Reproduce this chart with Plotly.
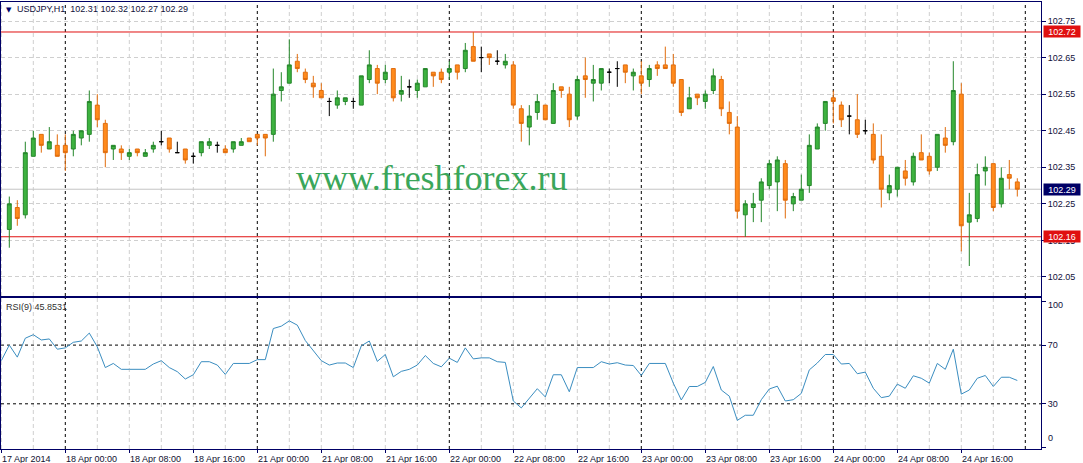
import plotly.graph_objects as go

# ---------------- data ----------------
symbol_title = "USDJPY,H1  102.31 102.32 102.27 102.29"
rsi_title = "RSI(9) 45.8531"
watermark = "www.freshforex.ru"

# hourly bars, 17 Apr 2014 17:00 ... 24 Apr 2014 23:00 (bar index 0..126)
opens = [102.18, 102.24, 102.22, 102.38, 102.44, 102.40, 102.41, 102.41, 102.40, 102.43,
         102.44, 102.52, 102.47, 102.40, 102.40, 102.38, 102.40, 102.38, 102.40, 102.42,
         102.43, 102.39, 102.40, 102.38, 102.39, 102.41, 102.41, 102.40, 102.40, 102.41,
         102.43, 102.44, 102.44, 102.44, 102.56, 102.58, 102.64, 102.61, 102.58, 102.56,
         102.53, 102.52, 102.53, 102.53, 102.52, 102.59, 102.62, 102.59, 102.62, 102.55,
         102.57, 102.56, 102.57, 102.61, 102.61, 102.61, 102.63, 102.62, 102.68, 102.65,
         102.66, 102.64, 102.63, 102.63, 102.51, 102.46, 102.50, 102.52, 102.47, 102.57,
         102.55, 102.49, 102.60, 102.58, 102.58, 102.61, 102.62, 102.63, 102.60, 102.60,
         102.59, 102.63, 102.63, 102.63, 102.59, 102.51, 102.55, 102.53, 102.56, 102.59,
         102.50, 102.46, 102.22, 102.24, 102.26, 102.30, 102.31, 102.36, 102.25, 102.26,
         102.30, 102.40, 102.47, 102.54, 102.52, 102.49, 102.48, 102.45, 102.44, 102.38,
         102.28, 102.29, 102.34, 102.31, 102.39, 102.38, 102.35, 102.43, 102.42, 102.55,
         102.20, 102.21, 102.34, 102.36, 102.25, 102.33, 102.31]
highs = [102.27, 102.26, 102.42, 102.45, 102.44, 102.46, 102.44, 102.44, 102.45, 102.45,
         102.56, 102.55, 102.48, 102.41, 102.41, 102.40, 102.40, 102.40, 102.42, 102.45,
         102.43, 102.42, 102.40, 102.39, 102.42, 102.43, 102.42, 102.41, 102.42, 102.43,
         102.43, 102.44, 102.44, 102.62, 102.61, 102.70, 102.66, 102.62, 102.60, 102.58,
         102.54, 102.56, 102.54, 102.54, 102.60, 102.67, 102.63, 102.63, 102.62, 102.60,
         102.59, 102.59, 102.62, 102.61, 102.62, 102.64, 102.63, 102.69, 102.72, 102.68,
         102.66, 102.67, 102.66, 102.64, 102.52, 102.52, 102.55, 102.52, 102.58, 102.57,
         102.57, 102.60, 102.65, 102.63, 102.62, 102.62, 102.64, 102.63, 102.62, 102.64,
         102.63, 102.64, 102.68, 102.66, 102.59, 102.57, 102.55, 102.56, 102.62, 102.60,
         102.53, 102.49, 102.26, 102.28, 102.32, 102.37, 102.38, 102.37, 102.28, 102.33,
         102.44, 102.47, 102.53, 102.56, 102.53, 102.52, 102.55, 102.48, 102.47, 102.44,
         102.33, 102.35, 102.37, 102.39, 102.44, 102.39, 102.44, 102.46, 102.64, 102.58,
         102.28, 102.36, 102.38, 102.36, 102.35, 102.37, 102.32]
lows = [102.13, 102.19, 102.21, 102.38, 102.39, 102.40, 102.38, 102.34, 102.38, 102.41,
        102.42, 102.46, 102.35, 102.37, 102.37, 102.37, 102.38, 102.38, 102.39, 102.41,
        102.39, 102.39, 102.36, 102.36, 102.38, 102.40, 102.39, 102.39, 102.39, 102.41,
        102.42, 102.41, 102.38, 102.42, 102.53, 102.58, 102.61, 102.58, 102.54, 102.54,
        102.49, 102.51, 102.52, 102.51, 102.52, 102.58, 102.55, 102.58, 102.53, 102.53,
        102.54, 102.54, 102.57, 102.57, 102.58, 102.59, 102.59, 102.61, 102.64, 102.61,
        102.63, 102.63, 102.62, 102.51, 102.42, 102.41, 102.48, 102.48, 102.47, 102.54,
        102.46, 102.48, 102.54, 102.53, 102.56, 102.58, 102.57, 102.58, 102.56, 102.55,
        102.57, 102.60, 102.62, 102.57, 102.49, 102.51, 102.52, 102.51, 102.55, 102.49,
        102.44, 102.21, 102.16, 102.20, 102.20, 102.29, 102.23, 102.21, 102.23, 102.26,
        102.28, 102.40, 102.45, 102.47, 102.46, 102.44, 102.43, 102.44, 102.36, 102.24,
        102.26, 102.27, 102.30, 102.30, 102.37, 102.33, 102.34, 102.39, 102.41, 102.12,
        102.08, 102.20, 102.30, 102.23, 102.24, 102.29, 102.27]
closes = [102.25, 102.21, 102.39, 102.43, 102.41, 102.42, 102.38, 102.39, 102.44, 102.45,
          102.53, 102.48, 102.39, 102.41, 102.39, 102.39, 102.39, 102.39, 102.41, 102.42,
          102.40, 102.39, 102.37, 102.38, 102.42, 102.42, 102.41, 102.39, 102.42, 102.42,
          102.42, 102.43, 102.43, 102.55, 102.57, 102.63, 102.62, 102.59, 102.57, 102.54,
          102.53, 102.54, 102.54, 102.53, 102.60, 102.63, 102.58, 102.61, 102.54, 102.56,
          102.57, 102.58, 102.62, 102.60, 102.59, 102.62, 102.61, 102.67, 102.64, 102.65,
          102.65, 102.64, 102.64, 102.52, 102.47, 102.49, 102.53, 102.48, 102.56, 102.56,
          102.48, 102.59, 102.59, 102.59, 102.62, 102.61, 102.62, 102.61, 102.61, 102.58,
          102.62, 102.62, 102.62, 102.58, 102.50, 102.54, 102.54, 102.55, 102.60, 102.51,
          102.47, 102.23, 102.25, 102.25, 102.31, 102.36, 102.37, 102.26, 102.27, 102.29,
          102.41, 102.46, 102.53, 102.53, 102.48, 102.49, 102.44, 102.45, 102.37, 102.29,
          102.30, 102.35, 102.32, 102.38, 102.37, 102.34, 102.44, 102.41, 102.56, 102.19,
          102.22, 102.33, 102.35, 102.24, 102.32, 102.32, 102.29]

# RSI(9), bar index -1 (17 Apr 16:00) ... 126
rsi_values = [59.4, 70.0, 61.8, 74.7, 77.1, 73.5, 74.2, 67.2, 68.1, 71.9,
              72.8, 78.2, 68.8, 54.7, 57.5, 53.5, 53.5, 53.5, 53.5, 57.1,
              59.4, 54.7, 51.9, 46.9, 49.8, 58.7, 58.7, 56.4, 50.0, 57.5,
              57.5, 57.5, 60.1, 60.1, 81.3, 82.9, 86.5, 83.6, 73.1, 66.5,
              59.4, 56.4, 57.8, 57.8, 54.7, 69.5, 72.8, 58.9, 63.6, 48.4,
              52.1, 53.5, 56.4, 62.9, 57.5, 55.2, 61.1, 58.2, 68.1, 60.6,
              61.3, 61.3, 58.7, 58.2, 31.9, 27.2, 33.5, 40.3, 34.7, 49.8,
              49.8, 38.2, 54.7, 54.7, 54.7, 58.7, 57.1, 58.0, 56.4, 56.1,
              49.3, 57.5, 57.5, 57.5, 44.1, 32.6, 41.8, 41.8, 44.6, 55.4,
              39.4, 35.2, 18.7, 22.2, 22.2, 32.8, 40.1, 42.0, 31.9, 32.8,
              37.1, 53.1, 57.8, 63.6, 63.6, 57.1, 57.5, 50.5, 51.6, 40.6,
              34.2, 35.2, 43.4, 40.6, 49.1, 47.4, 44.1, 57.5, 53.5, 67.2,
              36.6, 39.4, 47.4, 49.3, 41.8, 48.1, 48.1, 45.9]
rsi_first_bar = -1

tick_labels = ["17 Apr 2014", "18 Apr 00:00", "18 Apr 08:00", "18 Apr 16:00",
               "21 Apr 00:00", "21 Apr 08:00", "21 Apr 16:00", "22 Apr 00:00",
               "22 Apr 08:00", "22 Apr 16:00", "23 Apr 00:00", "23 Apr 08:00",
               "23 Apr 16:00", "24 Apr 00:00", "24 Apr 08:00", "24 Apr 16:00"]
tick_bars = [-1, 7, 15, 23, 31, 39, 47, 55, 63, 71, 79, 87, 95, 103, 111, 119]
day_bars = [7, 31, 55, 79, 103, 127]
grid_bars = list(range(-1, 128, 4))

price_ticks = [102.05, 102.15, 102.25, 102.35, 102.45, 102.55, 102.65, 102.75]
level_prices = [102.72, 102.16]
bid_price = 102.29
rsi_levels = [70, 30]
rsi_ticks = [0, 30, 70, 100]

# ---------------- styles ----------------
FONT = "Liberation Sans, Arial, sans-serif"
NAVY = "#000066"
GREEN_FILL, GREEN_LINE = "#3db23f", "#24862a"
ORANGE_FILL, ORANGE_LINE = "#ff8a1c", "#e06c0c"
RED = "#e01010"
GRID = "#cfcfcf"
LABEL = "#10103a"

fig = go.Figure()

bars = list(range(len(opens)))


def subset(cond):
    idx = [i for i in bars if cond(opens[i], closes[i])]
    return (idx, [opens[i] for i in idx], [highs[i] for i in idx],
            [lows[i] for i in idx], [closes[i] for i in idx])


for cond, fill, line in [
    (lambda o, c: c > o, GREEN_FILL, GREEN_LINE),
    (lambda o, c: c < o, ORANGE_FILL, ORANGE_LINE),
    (lambda o, c: c == o, "#000000", "#000000"),
]:
    x, o, h, l, c = subset(cond)
    fig.add_trace(go.Candlestick(
        x=x, open=o, high=h, low=l, close=c,
        increasing=dict(fillcolor=fill, line=dict(color=line, width=1)),
        decreasing=dict(fillcolor=fill, line=dict(color=line, width=1)),
        whiskerwidth=0, showlegend=False, hoverinfo="skip",
        xaxis="x", yaxis="y"))

rsi_x = [rsi_first_bar + k for k in range(len(rsi_values))]
fig.add_trace(go.Scatter(x=rsi_x, y=rsi_values, mode="lines",
                         line=dict(color="#3a8dc0", width=1),
                         showlegend=False, hoverinfo="skip",
                         xaxis="x2", yaxis="y2"))

# geometry (pixels)
W, H = 1083, 463
ml, mr, mt, mb = 1, 42, 2, 14
plot_h = H - mt - mb
main_bottom_px, rsi_top_px = 296, 298
main_dom = [(H - mb - main_bottom_px) / plot_h, 1]
rsi_dom = [0, (H - mb - rsi_top_px) / plot_h]

xr = [-1.0375, 128.9625]

shapes = []
for g in grid_bars:
    is_day = g in day_bars
    for yref in ["y domain", "y2 domain"]:
        shapes.append(dict(type="line", xref="x", yref=yref, x0=g, x1=g, y0=0, y1=1,
                           line=dict(color="#000000" if is_day else GRID, width=1,
                                     dash="3px,3px" if is_day else "4px,3px"),
                           layer="below"))
for lv in rsi_levels:
    shapes.append(dict(type="line", xref="x2 domain", yref="y2", x0=0, x1=1, y0=lv, y1=lv,
                       line=dict(color="#000000", width=1, dash="3px,3px"), layer="below"))
shapes.append(dict(type="line", xref="x domain", yref="y", x0=0, x1=1, y0=bid_price, y1=bid_price,
                   line=dict(color="#c4c4c4", width=1), layer="below"))
for lv in level_prices:
    shapes.append(dict(type="line", xref="x domain", yref="y", x0=0, x1=1, y0=lv, y1=lv,
                       line=dict(color=RED, width=1), layer="below"))

ann = []
# price boxes
box_x = (1043 - ml) / (W - ml - mr)
for lv, col in [(level_prices[0], RED), (level_prices[1], RED), (bid_price, NAVY)]:
    ann.append(dict(xref="paper", yref="y", x=box_x, y=lv, xanchor="left", yanchor="middle",
                    text=f"{lv:.2f}", showarrow=False, bgcolor=col, borderpad=0,
                    width=36, height=11, font=dict(family=FONT, size=9, color="white")))
# RSI scale end labels (kept inside the panel, as the terminal does)
for v, shift in [(rsi_ticks[-1], -4), (rsi_ticks[0], 10)]:
    ann.append(dict(xref="paper", yref="y2", x=1, y=v, xanchor="left", yanchor="middle",
                    xshift=5, yshift=shift, text=str(v), showarrow=False,
                    font=dict(family=FONT, size=9, color=LABEL)))
# x labels
for b, t in zip(tick_bars, tick_labels):
    ann.append(dict(xref="x2", yref="paper", x=b, y=0, xanchor="left", yanchor="top",
                    yshift=-3, xshift=-1, text=t, showarrow=False,
                    font=dict(family=FONT, size=9, color="#101030")))
# titles
ann.append(dict(xref="paper", yref="paper", x=(4 - ml) / 1040, y=(H - mb - 9.5) / plot_h,
                xanchor="left", yanchor="middle", text="▼", showarrow=False,
                font=dict(family="DejaVu Sans", size=7, color=NAVY)))
ann.append(dict(xref="paper", yref="paper", x=(15 - ml) / 1040, y=(H - mb - 9) / plot_h,
                xanchor="left", yanchor="middle", text=symbol_title, showarrow=False,
                font=dict(family=FONT, size=9, color=LABEL)))
ann.append(dict(xref="paper", yref="paper", x=(4 - ml) / 1040, y=(H - mb - 307) / plot_h,
                xanchor="left", yanchor="middle", text=rsi_title, showarrow=False,
                font=dict(family=FONT, size=9, color="#303030")))
ann.append(dict(xref="paper", yref="y", x=(432 - ml) / 1040, y=102.321,
                xanchor="center", yanchor="middle", text=watermark, showarrow=False,
                font=dict(family="Liberation Serif, Times New Roman, serif", size=36,
                          color="#3aa65a")))

axis_common = dict(showline=True, mirror=True, linecolor=NAVY, linewidth=1,
                   zeroline=False, fixedrange=True, automargin=False)

fig.update_layout(
    width=W, height=H,
    margin=dict(l=ml, r=mr, t=mt, b=mb, pad=0, autoexpand=False),
    paper_bgcolor="white", plot_bgcolor="white",
    showlegend=False,
    boxgap=0.3, boxgroupgap=0.3,
    xaxis=dict(domain=[0, 1], anchor="y", range=xr, showgrid=False, showticklabels=False,
               ticks="", rangeslider=dict(visible=False), **axis_common),
    xaxis2=dict(domain=[0, 1], anchor="y2", range=xr, matches="x", showgrid=False,
                tickmode="array", tickvals=tick_bars, ticks="outside", ticklen=3,
                tickcolor=NAVY, showticklabels=False, **axis_common),
    yaxis=dict(domain=main_dom, anchor="x", side="right", range=[101.998, 102.802],
               tickmode="array", tickvals=price_ticks,
               ticktext=[f"{p:.2f}" for p in price_ticks],
               ticks="outside", ticklen=4, tickcolor=NAVY,
               showgrid=True, gridcolor=GRID, griddash="4px,3px",
               tickfont=dict(family=FONT, size=9, color=LABEL), **axis_common),
    yaxis2=dict(domain=rsi_dom, anchor="x2", side="right", range=[-0.8, 102.1],
                tickmode="array", tickvals=rsi_ticks,
                ticktext=[str(v) if v in rsi_levels else "" for v in rsi_ticks],
                ticks="outside", ticklen=4, tickcolor=NAVY, showgrid=False,
                tickfont=dict(family=FONT, size=9, color=LABEL), **axis_common),
    shapes=shapes,
    annotations=ann,
)

fig.write_html("out.html", config={"displayModeBar": False},
               post_script="document.body.style.margin='0px';document.body.style.overflow='hidden';")
